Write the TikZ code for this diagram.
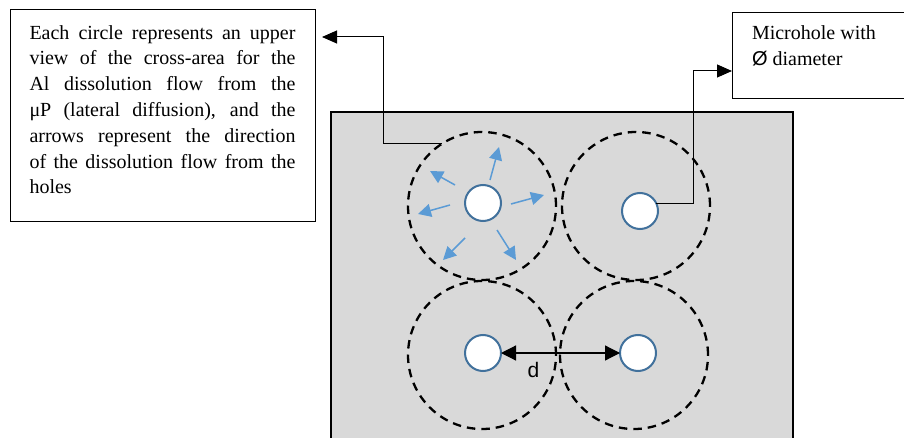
\documentclass[tikz,border=0pt]{standalone}
\usepackage{fontspec}
\setmainfont{Liberation Serif}
\newfontfamily\sansf{Liberation Sans}
\usetikzlibrary{arrows.meta}
\definecolor{plate}{HTML}{D9D9D9}
\definecolor{holeedge}{HTML}{41719C}
\definecolor{flowblue}{HTML}{5B9BD5}
\tikzset{
  zone/.style={circle, draw=black, line width=2.3pt, dash pattern=on 8.5pt off 6pt, minimum size=148pt, inner sep=0pt, outer sep=0pt},
  hole/.style={circle, draw=holeedge, fill=white, line width=2pt, minimum size=36pt, inner sep=0pt, outer sep=0pt},
  flow/.style={draw=flowblue, line width=1.5pt, -{Triangle[length=13pt,width=13pt]}},
  conn/.style={draw=black, line width=1pt, -{Triangle[length=15pt,width=13pt]}},
  dist/.style={draw=black, line width=1.2pt, {Triangle[length=15pt,width=15pt]}-{Triangle[length=15pt,width=15pt]}},
  note/.style={draw=black, line width=1pt, anchor=north west, inner sep=0pt, outer sep=0pt},
  notetext/.style={anchor=north west, inner sep=0pt, outer sep=0pt, align=left, font=\fontsize{20}{25.8}\selectfont}
}
\begin{document}
\begin{tikzpicture}[x=1pt,y=-1pt]
\useasboundingbox (0,0) rectangle (904,438);
% plate
\fill[plate] (331,112) rectangle (793,450);
\draw[line width=2pt] (331,450) -- (331,112) -- (793,112) -- (793,450);
% zones
\node[zone] (c1) at (482,206) {};
\node[zone] (c2) at (636,206) {};
\node[zone] (c3) at (482,355) {};
\node[zone] (c4) at (634,355) {};
% holes
\node[hole] (h1) at (483,203) {};
\node[hole] (h2) at (640,211) {};
\node[hole] (h3) at (483,353) {};
\node[hole] (h4) at (638,353) {};
% flow arrows
\draw[flow] (490,180) -- (499,147);
\draw[flow] (455,185) -- (430,171);
\draw[flow] (450,205) -- (418,214);
\draw[flow] (465,238) -- (443,260);
\draw[flow] (497,230) -- (516,260);
\draw[flow] (511,204) -- (544,195);
% distance
\draw[dist] (h3) -- (h4);
\node[anchor=base, inner sep=0pt, font=\sansf\fontsize{21}{21}\selectfont] (dl) at (533.5,377) {d};
% notes
\node[note, minimum width=305pt, minimum height=212pt] (lbox) at (10,10) {};
\node[notetext] (ltext) at (29.5,25.3) {%
\makebox[266pt][s]{Each circle represents an upper}\\
\makebox[266pt][s]{view of the cross-area for the}\\
\makebox[266pt][s]{Al dissolution flow from the}\\
\makebox[266pt][s]{μP (lateral diffusion), and the}\\
\makebox[266pt][s]{arrows represent the direction}\\
\makebox[266pt][s]{of the dissolution flow from the}\\
holes};
\node[note, minimum width=180pt, minimum height=86pt] (mbox) at (732,13) {};
\node[notetext, font=\fontsize{20}{26}\selectfont] (mtext) at (752,25.3) {Microhole with\\{\sansf Ø} diameter};
% connectors
\coordinate (ltip) at (322,37);
\coordinate (mtip) at (732,71);
\draw[conn] (c1.123) -| (383,37) -- (ltip);
\draw[conn] (h2.26) -| (693,71) -- (mtip);
\end{tikzpicture}
\end{document}
